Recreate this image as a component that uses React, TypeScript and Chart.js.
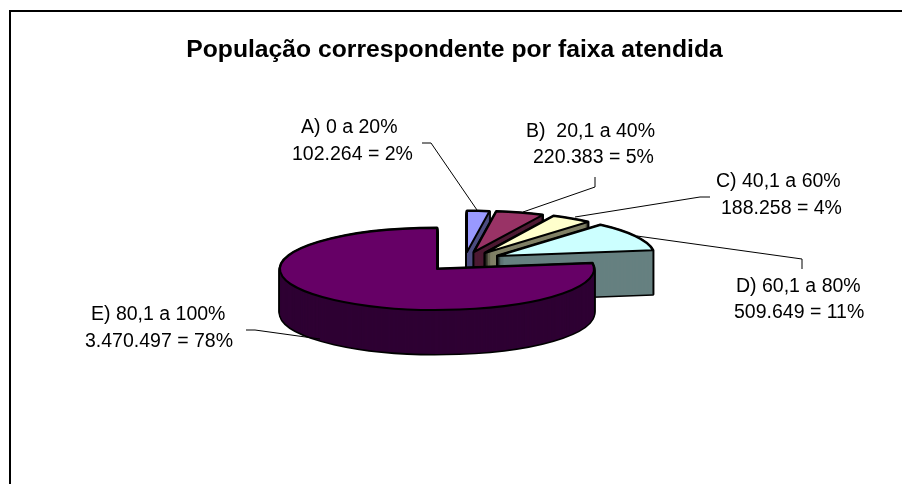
import React, { useEffect, useRef } from "react";
import { Chart, registerables } from "chart.js";

Chart.register(...registerables);

const titleText = "População correspondente por faixa atendida";
const categories = ["A) 0 a 20%", "B)  20,1 a 40%", "C) 40,1 a 60%", "D) 60,1 a 80%", "E) 80,1 a 100%"];
const values = [102264, 220383, 188258, 509649, 3470497];
const valueLabels = ["102.264 = 2%", "220.383 = 5%", "188.258 = 4%", "509.649 = 11%", "3.470.497 = 78%"];
const faceColors = ["#9999FF", "#993366", "#FFFFCC", "#CCFFFF", "#660066"];
const wallColors = ["#4D4D80", "#4D1A33", "#808066", "#668080", "#2E0033"];

// Projection and explosion of the pie
const centerX = 437;
const centerY = 269;
const radiusX = 157;
const tilt = 41 / 157;
const depth = 44;
const explodeX = [30, 37, 48, 60.5, 0];
const explodeY = [-17, -17, -16, -13, 0];

// Label placement: [left, centre y] of both lines
const labelLeft = [[301, 292], [526, 533], [716, 721], [736, 734], [91, 85]];
const labelY = [[128, 155], [132, 158], [182, 209], [287, 313], [315, 342]];
const leaders = [
  [[422, 143], [431, 143], [477, 210]],
  [[595, 177], [595, 187], [523, 212]],
  [[710, 197], [700, 197], [575, 217]],
  [[802, 269], [802, 259], [637, 236]],
  [[246, 330], [255, 330], [320, 339]],
];

const pie3d = {
  id: "pie3d",
  beforeDatasetsDraw(chart: any) {
    const ctx = chart.ctx;
    const arcs = chart.getDatasetMeta(0).data;
    const nativeStroke = ctx.stroke;
    ctx.stroke = function () {
      const t = ctx.getTransform();
      ctx.setTransform(1, 0, 0, 1, 0, 0);
      nativeStroke.call(ctx);
      ctx.setTransform(t);
    };
    const paint = (arc: any, i: number, d: number, bg: string, bw: number) => {
      const saved = arc.options;
      arc.options = { ...saved, backgroundColor: bg, borderColor: "#000", borderWidth: bw, borderJoinStyle: "round" };
      ctx.save();
      ctx.setTransform(1, 0, 0, tilt, centerX + explodeX[i] - arc.x, centerY + explodeY[i] + d - arc.y * tilt);
      arc.draw(ctx);
      ctx.restore();
      arc.options = saved;
    };
    arcs.forEach((arc: any, i: number) => {
      for (let d = depth; d >= 0; d--) paint(arc, i, d, wallColors[i], 3);
      for (let d = depth; d >= 0; d--) paint(arc, i, d, wallColors[i], 0);
      paint(arc, i, 0, faceColors[i], 2);
    });
    delete ctx.stroke;
    return false;
  },
  afterDraw(chart: any) {
    const ctx = chart.ctx;
    ctx.save();
    ctx.strokeStyle = "#000";
    ctx.lineWidth = 2;
    ctx.beginPath();
    ctx.moveTo(10, 484);
    ctx.lineTo(10, 11);
    ctx.lineTo(902, 11);
    ctx.stroke();
    ctx.lineWidth = 1;
    leaders.forEach((pts) => {
      ctx.beginPath();
      pts.forEach(([x, y], k) => (k ? ctx.lineTo(x, y) : ctx.moveTo(x, y)));
      ctx.stroke();
    });
    ctx.fillStyle = "#000";
    ctx.font = '19.5px "Liberation Sans"';
    ctx.textAlign = "left";
    ctx.textBaseline = "middle";
    categories.forEach((c, i) => {
      ctx.fillText(c, labelLeft[i][0], labelY[i][0]);
      ctx.fillText(valueLabels[i], labelLeft[i][1], labelY[i][1]);
    });
    ctx.restore();
  },
};

export default function App() {
  const ref = useRef<HTMLCanvasElement>(null);
  useEffect(() => {
    document.body.style.margin = "0";
    const chart = new Chart(ref.current as HTMLCanvasElement, {
      type: "pie",
      data: {
        labels: categories,
        datasets: [{ data: values, backgroundColor: faceColors, borderColor: "#000", borderWidth: 2 }],
      },
      options: {
        responsive: false,
        animation: false,
        radius: radiusX,
        layout: { padding: { left: 7 } },
        plugins: {
          legend: { display: false },
          tooltip: { enabled: false },
          title: {
            display: true,
            text: titleText,
            color: "#000",
            font: { family: '"Liberation Sans"', size: 24.7, weight: "bold" },
            padding: { top: 35, bottom: 10 },
          },
        },
      } as any,
      plugins: [pie3d],
    });
    return () => chart.destroy();
  }, []);
  return <canvas ref={ref} width={902} height={484} style={{ display: "block" }} />;
}
